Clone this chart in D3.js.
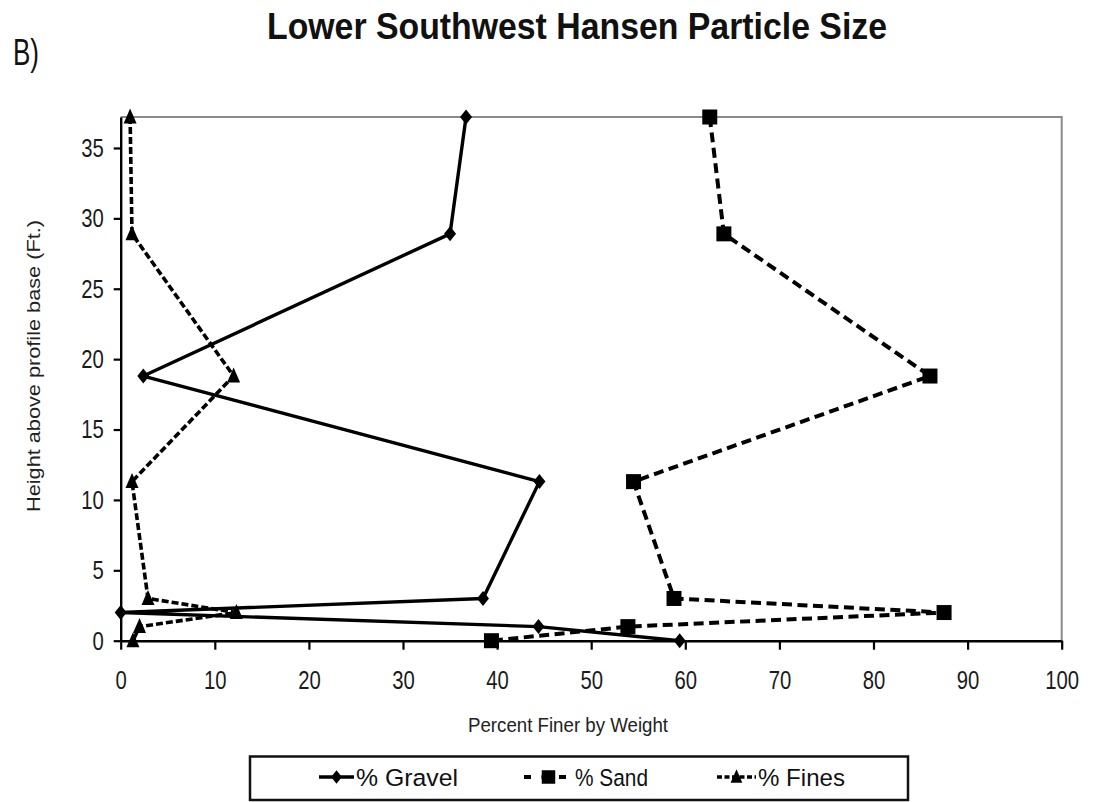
<!DOCTYPE html>
<html>
<head>
<meta charset="utf-8">
<script src="https://cdn.jsdelivr.net/npm/d3@7"></script>
<style>
  html, body { margin: 0; padding: 0; background: #fff; }
  svg { display: block; font-family: "Liberation Sans", Arial, sans-serif; }
</style>
</head>
<body>
<svg id="chart" width="1095" height="802"></svg>
<script>
// Sample heights (ft above profile base), top to bottom
const heights = [37.2, 28.9, 18.8, 11.3, 3, 2, 1, 0];
// Percent finer by weight for each size class at those heights
const gravel = [36.7, 35.0, 2.4, 44.5, 38.5, 0, 44.4, 59.4];
const sand   = [62.6, 64.1, 86.0, 54.5, 58.8, 87.5, 53.9, 39.4];
const fines  = [1.0, 1.2, 12.0, 1.2, 2.9, 12.3, 2.0, 1.3];

const xTicks = [0, 10, 20, 30, 40, 50, 60, 70, 80, 90, 100];
const yTicks = [0, 5, 10, 15, 20, 25, 30, 35];
const seriesNames = ["% Gravel", "% Sand", "% Fines"];

const svg = d3.select("#chart");
const plotL = 120.7, plotR = 1061.7, plotT = 117, plotB = 640.7;

const x = d3.scaleLinear().domain([0, 100]).range([plotL, plotR]);
const y = d3.scaleLinear().domain([0, 37.2]).range([plotB, plotT]);

// tick labels are drawn horizontally condensed
const squeeze = 0.78;

// plot frame: grey top and right edges
svg.append("path")
  .attr("d", `M${plotL},${plotT}H${plotR}V${plotB}`)
  .attr("fill", "none").attr("stroke", "#8a8a8a").attr("stroke-width", 2);

// x axis
const gx = svg.append("g")
  .attr("transform", `translate(0,${plotB})`)
  .call(d3.axisBottom(x).tickValues(xTicks).tickSize(9).tickSizeOuter(0).tickPadding(21).tickFormat(d3.format("d")));
gx.select(".domain").attr("stroke", "#000").attr("stroke-width", 2.4);
gx.selectAll(".tick line").attr("stroke", "#000").attr("stroke-width", 2.2);
gx.selectAll(".tick text")
  .attr("font-size", 26).attr("fill", "#1a1a1a")
  .attr("font-family", "Liberation Sans, Arial, sans-serif")
  .attr("transform", `scale(${squeeze},1)`);

// y axis
const gy = svg.append("g")
  .attr("transform", `translate(${plotL},0)`)
  .call(d3.axisLeft(y).tickValues(yTicks).tickSize(7).tickSizeOuter(0).tickPadding(13));
gy.select(".domain").attr("stroke", "#000").attr("stroke-width", 2.4);
gy.selectAll(".tick line").attr("stroke", "#000").attr("stroke-width", 2.2);
gy.selectAll(".tick text")
  .attr("font-size", 26).attr("fill", "#1a1a1a")
  .attr("font-family", "Liberation Sans, Arial, sans-serif")
  .attr("x", -17 / squeeze)
  .attr("transform", `scale(${squeeze},1)`);

// marker shapes
const markers = {
  diamond: "M0,-7.5L6,0L0,7.5L-6,0Z",
  square: "M-7.5,-7.5H7.5V7.5H-7.5Z",
  triangle: "M0,-8.5L6.5,6.5H-6.5Z"
};

const series = [
  { name: seriesNames[0], values: gravel, dash: null, width: 3.4, marker: markers.diamond },
  { name: seriesNames[1], values: sand, dash: "10,5.5", width: 4, marker: markers.square },
  { name: seriesNames[2], values: fines, dash: "7,3", width: 3.6, marker: markers.triangle }
];

const line = d3.line().x(d => x(d[0])).y(d => y(d[1]));

series.forEach(s => {
  const pts = s.values.map((v, i) => [v, heights[i]]);
  svg.append("path")
    .datum(pts)
    .attr("d", line)
    .attr("fill", "none")
    .attr("stroke", "#000")
    .attr("stroke-width", s.width)
    .attr("stroke-linejoin", "round")
    .attr("stroke-dasharray", s.dash);
  svg.append("g").selectAll("path")
    .data(pts)
    .join("path")
    .attr("d", s.marker)
    .attr("transform", d => `translate(${x(d[0])},${y(d[1])})`)
    .attr("fill", "#000");
});

// titles
svg.append("text")
  .attr("x", 267).attr("y", 39)
  .attr("font-size", 36).attr("font-weight", "bold").attr("fill", "#111")
  .attr("textLength", 620).attr("lengthAdjust", "spacingAndGlyphs")
  .text("Lower Southwest Hansen Particle Size");

svg.append("text")
  .attr("x", 13).attr("y", 65)
  .attr("font-size", 37).attr("fill", "#111")
  .attr("textLength", 26).attr("lengthAdjust", "spacingAndGlyphs")
  .text("B)");

svg.append("text")
  .attr("x", 468).attr("y", 731.5)
  .attr("font-size", 21).attr("fill", "#222")
  .attr("textLength", 200).attr("lengthAdjust", "spacingAndGlyphs")
  .text("Percent Finer by Weight");

svg.append("text")
  .attr("transform", "translate(40,512) rotate(-90)")
  .attr("font-size", 19).attr("fill", "#222")
  .attr("textLength", 292).attr("lengthAdjust", "spacingAndGlyphs")
  .text("Height above profile base (Ft.)");

// legend
svg.append("rect")
  .attr("x", 250).attr("y", 756.5).attr("width", 658).attr("height", 43.5)
  .attr("fill", "#fff").attr("stroke", "#111").attr("stroke-width", 2.5);

const legendItems = [
  { s: series[0], x0: 319, x1: 354, tx: 356, tw: 102, dash: null },
  { s: series[1], x0: 524, x1: 573, tx: 575, tw: 73, dash: "7,10.5" },
  { s: series[2], x0: 717, x1: 756, tx: 758, tw: 87, dash: "5,2.5" }
];
const ly = 777;
legendItems.forEach(it => {
  svg.append("line")
    .attr("x1", it.x0).attr("x2", it.x1).attr("y1", ly).attr("y2", ly)
    .attr("stroke", "#000").attr("stroke-width", it.s.width)
    .attr("stroke-dasharray", it.dash);
  svg.append("path")
    .attr("d", it.s.marker)
    .attr("transform", `translate(${(it.x0 + it.x1) / 2},${ly}) scale(0.9)`)
    .attr("fill", "#000");
  svg.append("text")
    .attr("x", it.tx).attr("y", 786)
    .attr("font-size", 24.5).attr("fill", "#111")
    .attr("textLength", it.tw).attr("lengthAdjust", "spacingAndGlyphs")
    .text(it.s.name);
});
</script>
</body>
</html>
